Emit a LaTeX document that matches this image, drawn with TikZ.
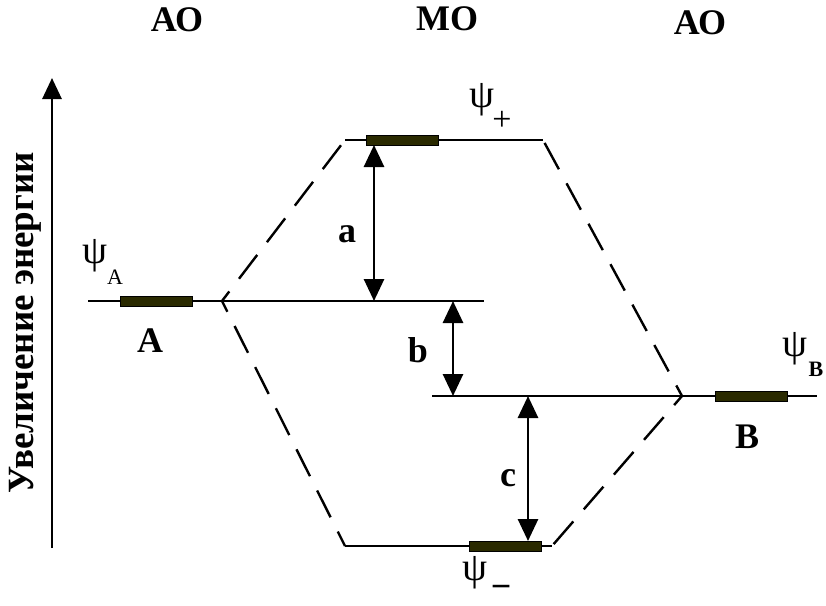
\documentclass[tikz,border=0pt]{standalone}
\usepackage{fontspec}
\setmainfont{Liberation Serif}
\usetikzlibrary{arrows.meta}
\definecolor{orbital}{RGB}{42,42,0}

\begin{document}
\begin{tikzpicture}[x=1pt,y=-1pt,line width=2.8pt,
    corr/.style={line width=2.4pt,dash pattern=on 30pt off 16pt,dash phase=18pt},
    gap/.style={{Triangle[length=22pt,width=20pt]}-{Triangle[length=22pt,width=20pt]}},
    orb/.style={draw=black,fill=orbital,line width=1pt,minimum width=72pt,minimum height=10pt,inner sep=0pt},
    big/.style={font=\fontsize{36}{40}\selectfont\bfseries,inner sep=0pt},
    psi/.style={font=\fontsize{40}{44}\selectfont,inner sep=0pt},
    sub/.style={font=\fontsize{22}{26}\selectfont,inner sep=0pt}]
                \useasboundingbox (0,0) rectangle (826,605);

                \coordinate (A1) at (88,301);
                \coordinate (A2) at (484,301);
                \coordinate (Ak) at (222,301);
                \coordinate (P1) at (345,140);
                \coordinate (P2) at (543,140);
                \coordinate (M1) at (345,546);
                \coordinate (M2) at (552,546);
                \coordinate (B1) at (432,396);
                \coordinate (B2) at (817,396);
                \coordinate (Bk) at (682,396);

                % energy levels
                \draw (A1) -- (A2);
                \draw (P1) -- (P2);
                \draw (M1) -- (M2);
                \draw (B1) -- (B2);

                \node [orb] (oA) at (156,301) {};
                \node [orb] (oP) at (402,140) {};
                \node [orb] (oM) at (505,546) {};
                \node [orb] (oB) at (751,396) {};

                % correlation lines
                \draw[corr] (Ak) -- (P1);
                \draw[corr] (Ak) -- (M1);
                \draw[corr] (Bk) -- (P2);
                \draw[corr] (Bk) -- (M2);

                % energy gaps
                \coordinate (a1) at (374,145);
                \coordinate (a2) at (374,301);
                \coordinate (b1) at (453,301);
                \coordinate (b2) at (453,396);
                \coordinate (c1) at (528,396);
                \coordinate (c2) at (528,541);
                \draw[gap] (a1) -- (a2);
                \draw[gap] (b1) -- (b2);
                \draw[gap] (c1) -- (c2);
                \node [big] (la) at (347,234) {a};
                \node [big] (lb) at (418,350) {b};
                \node [big] (lc) at (508,478) {c};

                % energy axis
                \coordinate (E0) at (52,548);
                \coordinate (E1) at (52,78);
                \draw[-{Triangle[length=21pt,width=19pt]}] (E0) -- (E1);
                \node [big,rotate=90,anchor=base,font=\fontsize{37}{41}\selectfont\bfseries] (en) at (33,323) {Увеличение энергии};

                \node [big] (hA) at (177,20) {АО};
                \node [big] (hM) at (447,19) {МО};
                \node [big] (hB) at (700,23) {АО};

                \node [big] (nA) at (150,341) {A};
                \node [big] (nB) at (747,437) {B};

                \node [psi] (pA) at (95,256) {ψ};
                \node [sub] (sA) at (115,277) {A};
                \node [psi] (pP) at (482,100) {ψ};
                \node [psi,font=\fontsize{34}{38}\selectfont] (sP) at (502,121) {+};
                \node [psi] (pB) at (795,349) {ψ};
                \node [sub,font=\fontsize{22}{26}\selectfont\bfseries] (sB) at (816,369) {B};
                \node [psi] (pM) at (475,573) {ψ};
                \node [psi,font=\fontsize{36}{40}\selectfont\bfseries] (sM) at (501,592) {−};

                \end{tikzpicture}
\end{document}
